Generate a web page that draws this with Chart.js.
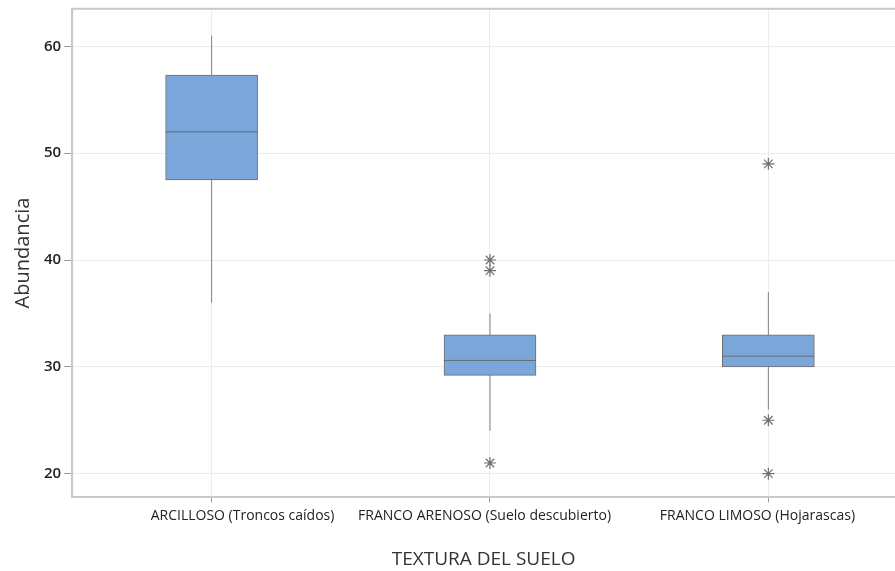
<!DOCTYPE html>
<html>
<head>
<meta charset="utf-8">
<script src="https://cdn.jsdelivr.net/npm/chart.js@4/dist/chart.umd.min.js"></script>
<style>
  html, body { margin: 0; padding: 0; background: #ffffff; }
  #wrap { width: 895px; height: 571px; position: relative; }
</style>
</head>
<body>
<div id="wrap"><canvas id="c" width="895" height="571"></canvas></div>
<script>
// ---- Data ----
const categories = ['ARCILLOSO (Troncos caídos)', 'FRANCO ARENOSO (Suelo descubierto)', 'FRANCO LIMOSO (Hojarascas)'];
const positions = [1, 2, 3];
const q1Values = [47.5, 29.2, 30.0];
const q3Values = [57.3, 33.0, 33.0];
const medianValues = [52.0, 30.6, 31.0];
const whiskerLow = [36, 24, 26];
const whiskerHigh = [61, 35, 37];
const outlierValues = [[], [40, 39, 21], [49, 25, 20]];
const yTicks = [20, 30, 40, 50, 60];

// label placement tweak (layout only): spaces before / after each tick label
const labelPadBefore = [17, 0, 0];
const labelPadAfter = [0, 3, 6];

// ---- Build library data structures ----
const whiskerData = [];
positions.forEach((p, i) => {
  whiskerData.push({ x: p, y: whiskerLow[i] });
  whiskerData.push({ x: p, y: whiskerHigh[i] });
  whiskerData.push({ x: p, y: null });
});
const boxData = positions.map((p, i) => ({ x: p, y: [q1Values[i], q3Values[i]] }));
const medianData = positions.map((p, i) => ({ x: p, y: medianValues[i] }));
const outlierData = [];
positions.forEach((p, i) => outlierValues[i].forEach(v => outlierData.push({ x: p, y: v })));

const frame = {
  id: 'frame',
  beforeDatasetsDraw(chart) {
    const { ctx, chartArea } = chart;
    ctx.save();
    ctx.strokeStyle = '#c9c9c9';
    ctx.lineWidth = 2;
    ctx.beginPath();
    ctx.moveTo(chartArea.left, chartArea.bottom);
    ctx.lineTo(chartArea.left, chartArea.top);
    ctx.lineTo(chartArea.right + 2, chartArea.top);
    ctx.stroke();
    ctx.restore();
  }
};

new Chart(document.getElementById('c'), {
  data: {
    datasets: [
      {
        type: 'line', data: whiskerData, borderColor: '#808080', borderWidth: 1,
        pointRadius: 0, spanGaps: false, order: 3
      },
      {
        type: 'bar', data: boxData, backgroundColor: '#7ba6da', borderColor: '#6e6e6e',
        borderWidth: 1, borderSkipped: false, barThickness: 92, order: 2
      },
      {
        type: 'scatter', data: medianData, pointStyle: 'line', pointRadius: 46,
        borderColor: '#6a6a6a', borderWidth: 1, order: 1
      },
      {
        type: 'scatter', data: outlierData, pointStyle: 'star', pointRadius: 6,
        borderColor: '#6f6f6f', borderWidth: 1.2, order: 0
      }
    ]
  },
  options: {
    responsive: false,
    animation: false,
    events: [],
    layout: { autoPadding: false, padding: { left: 11, right: 0, top: 0, bottom: 0 } },
    plugins: { legend: { display: false }, tooltip: { enabled: false } },
    scales: {
      x: {
        type: 'linear', min: 0.499, max: 3.455, offset: false,
        afterBuildTicks: (s) => { s.ticks = positions.map(v => ({ value: v })); },
        ticks: {
          callback: (v) => {
            const i = positions.indexOf(v);
            if (i < 0) return '';
            return ' '.repeat(labelPadBefore[i]) + categories[i] + ' '.repeat(labelPadAfter[i]);
          },
          color: '#222', font: { family: 'Open Sans', size: 14 }, padding: 5, maxRotation: 0, autoSkip: false
        },
        grid: { color: '#ececec', tickColor: '#9a9a9a', tickLength: 5, offset: false },
        border: { color: '#c9c9c9', width: 2 },
        title: { display: true, text: 'TEXTURA DEL SUELO', color: '#333', font: { family: 'Open Sans', size: 19 }, padding: { top: 19, bottom: 0 } }
      },
      y: {
        min: 17.78, max: 63.53,
        afterBuildTicks: (s) => { s.ticks = yTicks.map(v => ({ value: v })); },
        ticks: { color: '#222', font: { family: 'Open Sans', size: 15, weight: '600', lineHeight: 0.75 }, padding: 3 },
        grid: { color: '#ececec', tickColor: '#9a9a9a', tickLength: 8 },
        border: { color: '#c9c9c9', width: 2 },
        title: { display: true, text: 'Abundancia', color: '#333', font: { family: 'Open Sans', size: 20 }, padding: { top: 0, bottom: 6 } }
      }
    }
  },
  plugins: [frame]
});
</script>
</body>
</html>
